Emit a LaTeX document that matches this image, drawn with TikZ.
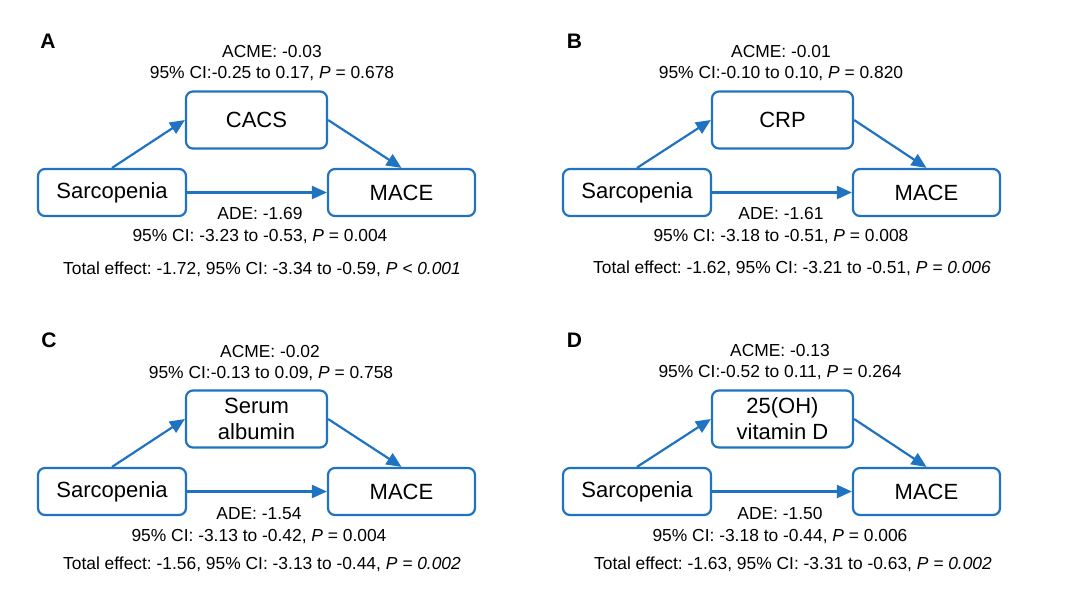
\documentclass[tikz,border=0pt]{standalone}
\usepackage{fontspec}
\setmainfont{Liberation Sans}
\usetikzlibrary{arrows.meta}
\definecolor{bl}{RGB}{31,115,192}
\frenchspacing
\begin{document}
\begin{tikzpicture}[x=1pt,y=-1pt,
 box/.style={draw=bl, line width=2.2pt, rounded corners=7pt, fill=white, inner sep=0pt, align=center, font=\fontsize{22}{26}\selectfont},
 sbox/.style={box, minimum width=148pt, minimum height=47pt},
 mbox/.style={box, minimum width=141pt, minimum height=57pt},
 ybox/.style={box, minimum width=147pt, minimum height=47pt},
 arr/.style={draw=bl, line width=2.2pt, -{Triangle[length=15pt,width=13pt]}},
 lbl/.style={font=\fontsize{17.4}{21}\selectfont, inner sep=0pt, anchor=base},
 plabel/.style={font=\bfseries\fontsize{21}{21}\selectfont, inner sep=0pt, anchor=base}]
\useasboundingbox (0,0) rectangle (1080,603);

% ---------- Panel A ----------
\node[plabel] (LA) at (48,48) {A};
\node[sbox] (sA) at (112,192.5) {Sarcopenia};
\node[mbox] (mA) at (256.5,120) {CACS};
\node[ybox] (yA) at (401.5,192.5) {MACE};
\draw[arr] (sA.north) -- (mA.west);
\draw[arr] (mA.east) -- (yA.north);
\draw[arr] (sA.east) -- (yA.west);
\node[lbl] (a1A) at (272,57) {ACME: -0.03};
\node[lbl] (a2A) at (272,78) {95\% CI:-0.25 to 0.17, \textit{P} = 0.678};
\node[lbl] (d1A) at (260,219) {ADE: -1.69};
\node[lbl] (d2A) at (260,241.5) {95\% CI: -3.23 to -0.53, \textit{P} = 0.004};
\node[lbl] (tA) at (262,274) {Total effect: -1.72, 95\% CI: -3.34 to -0.59, \textit{P < 0.001}};

% ---------- Panel B ----------
\node[plabel] (LB) at (574.5,48) {B};
\node[sbox] (sB) at (637,192.5) {Sarcopenia};
\node[mbox] (mB) at (782.5,120) {CRP};
\node[ybox] (yB) at (926.5,192.5) {MACE};
\draw[arr] (sB.north) -- (mB.west);
\draw[arr] (mB.east) -- (yB.north);
\draw[arr] (sB.east) -- (yB.west);
\node[lbl] (a1B) at (781,57) {ACME: -0.01};
\node[lbl] (a2B) at (781,78) {95\% CI:-0.10 to 0.10, \textit{P} = 0.820};
\node[lbl] (d1B) at (781,219) {ADE: -1.61};
\node[lbl] (d2B) at (781,241.5) {95\% CI: -3.18 to -0.51, \textit{P} = 0.008};
\node[lbl] (tB) at (792,273.5) {Total effect: -1.62, 95\% CI: -3.21 to -0.51, \textit{P = 0.006}};

% ---------- Panel C ----------
\node[plabel] (LC) at (49,347) {C};
\node[sbox] (sC) at (112,491.5) {Sarcopenia};
\node[mbox] (mC) at (256.5,419) {Serum\\albumin};
\node[ybox] (yC) at (401.5,491.5) {MACE};
\draw[arr] (sC.north) -- (mC.west);
\draw[arr] (mC.east) -- (yC.north);
\draw[arr] (sC.east) -- (yC.west);
\node[lbl] (a1C) at (270,357) {ACME: -0.02};
\node[lbl] (a2C) at (271,378) {95\% CI:-0.13 to 0.09, \textit{P} = 0.758};
\node[lbl] (d1C) at (259,519) {ADE: -1.54};
\node[lbl] (d2C) at (259,541.5) {95\% CI: -3.13 to -0.42, \textit{P} = 0.004};
\node[lbl] (tC) at (262,569) {Total effect: -1.56, 95\% CI: -3.13 to -0.44, \textit{P = 0.002}};

% ---------- Panel D ----------
\node[plabel] (LD) at (574.5,347) {D};
\node[sbox] (sD) at (637,491.5) {Sarcopenia};
\node[mbox] (mD) at (782.5,419) {25(OH)\\vitamin D};
\node[ybox] (yD) at (926.5,491.5) {MACE};
\draw[arr] (sD.north) -- (mD.west);
\draw[arr] (mD.east) -- (yD.north);
\draw[arr] (sD.east) -- (yD.west);
\node[lbl] (a1D) at (780,356) {ACME: -0.13};
\node[lbl] (a2D) at (780,377.5) {95\% CI:-0.52 to 0.11, \textit{P} = 0.264};
\node[lbl] (d1D) at (780,519) {ADE: -1.50};
\node[lbl] (d2D) at (780,541) {95\% CI: -3.18 to -0.44, \textit{P} = 0.006};
\node[lbl] (tD) at (793,569) {Total effect: -1.63, 95\% CI: -3.31 to -0.63, \textit{P = 0.002}};
\end{tikzpicture}
\end{document}
